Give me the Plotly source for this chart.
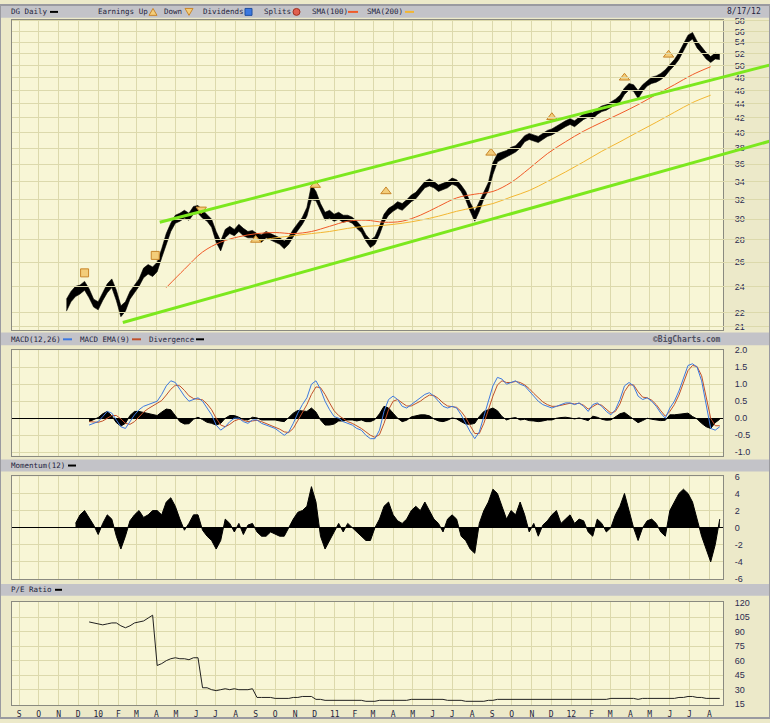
import math
import pandas as pd
import plotly.graph_objects as go

# ---------------- data ----------------
WEEK_START = "2009-11-13"   # weekly samples (Fridays) of DG daily price range
PRICE_HIGH = [23.0,23.6,24.0,24.1,24.4,23.8,23.0,22.8,23.5,24.2,
              24.6,23.7,22.5,22.8,23.6,24.1,24.6,25.5,25.8,25.6,
              26.0,27.2,28.6,29.6,30.4,30.6,30.9,30.6,31.3,31.4,
              30.9,30.5,30.0,28.8,27.9,29.0,29.3,29.0,29.5,29.1,
              28.8,28.9,28.6,28.5,28.8,28.6,28.4,28.2,27.9,28.3,
              29.0,29.6,30.2,31.2,33.6,32.9,31.6,30.7,30.9,30.5,
              30.7,30.4,30.4,30.2,29.8,29.3,28.5,28.0,28.3,29.3,
              30.5,31.1,31.4,31.8,31.6,32.0,32.5,32.8,33.4,34.0,
              34.3,34.0,33.6,33.8,34.0,34.4,34.2,33.6,32.9,31.7,
              30.8,31.8,32.9,33.9,36.2,37.3,37.5,37.7,38.1,38.3,
              38.9,39.6,39.9,39.7,39.5,39.9,40.3,40.5,40.9,41.2,
              41.6,41.9,41.6,42.1,42.6,42.9,42.7,43.3,43.7,43.9,
              44.3,44.7,45.3,46.4,47.1,46.9,46.0,46.9,47.5,48.1,
              48.3,48.7,49.3,50.2,51.0,52.2,53.8,55.3,55.8,54.2,
              53.2,52.2,51.5,52.1,51.9]
PRICE_LOW = [22.1,22.8,23.2,23.4,23.7,23.1,22.4,22.2,22.9,23.5,
             23.9,22.9,21.7,22.1,23.0,23.5,24.0,24.7,25.0,24.8,
             25.2,26.4,27.6,28.8,29.6,29.8,30.1,29.9,30.5,30.6,
             30.1,29.8,29.2,27.8,27.0,28.2,28.6,28.4,28.8,28.4,
             28.2,28.2,28.0,27.8,28.2,28.0,27.8,27.6,27.2,27.6,
             28.3,28.9,29.5,30.3,32.0,31.9,30.8,29.9,30.1,29.8,
             30.0,29.7,29.8,29.6,29.1,28.7,27.9,27.3,27.6,28.5,
             29.7,30.4,30.8,31.1,30.9,31.3,31.8,32.1,32.7,33.3,
             33.5,33.3,32.9,33.1,33.3,33.7,33.5,32.9,32.0,30.8,
             29.8,30.8,32.1,33.0,34.8,36.3,36.6,36.9,37.2,37.5,
             38.0,38.8,39.1,38.9,38.7,39.1,39.5,39.7,40.1,40.4,
             40.8,41.1,40.8,41.3,41.8,42.1,41.9,42.5,42.9,43.1,
             43.5,43.9,44.3,45.4,46.1,45.9,44.8,45.9,46.7,47.1,
             47.3,47.7,48.3,49.2,50.0,51.0,52.4,54.0,54.6,53.0,
             52.1,51.1,50.5,51.1,51.0]

SMA100_START = "2010-04-16"   # every 4 weeks
SMA100 = [23.9,25.4,26.9,27.8,28.3,28.6,28.7,28.6,28.8,29.3,29.8,29.9,29.7,29.8,
          30.4,31.3,32.2,32.6,32.9,33.9,35.5,37.3,38.8,40.2,41.4,42.6,43.9,45.4,
          46.9,48.5,49.8]
SMA200_START = "2010-09-03"
SMA200 = [27.9,28.2,28.4,28.6,28.8,29.1,29.3,29.4,29.6,29.9,30.3,30.8,31.2,31.6,
          32.3,33.0,34.0,35.1,36.3,37.6,38.8,40.1,41.4,42.8,44.2,45.3]

EARN_DATES = ["2009-12-11","2010-03-30","2010-06-09","2010-09-01","2010-12-02",
              "2011-03-21","2011-08-30","2011-12-02","2012-03-23","2012-05-30"]
EARN_LEVEL = [25.1,26.6,31.0,28.0,33.6,32.9,37.4,42.1,48.0,51.8]
EARN_KIND = ["flat","flat","down","up","up","up","up","up","up","up"]

# trend channel (two anchor points each)
CHANNEL_UP_X = ["2010-04-06","2012-11-03"]
CHANNEL_UP_Y = [29.7, 50.1]
CHANNEL_LO_X = ["2010-02-08","2012-11-03"]
CHANNEL_LO_Y = [21.28, 38.9]

MACD_START = "2009-12-18"
MACD = [-0.2,-0.15,-0.1,0.05,0.2,0.15,-0.05,-0.25,-0.3,-0.1,
        0.1,0.25,0.35,0.4,0.45,0.5,0.7,0.95,1.1,1.05,
        0.85,0.65,0.5,0.55,0.6,0.5,0.3,0.1,-0.2,-0.35,
        -0.25,-0.1,0.0,0.0,-0.1,-0.15,-0.05,-0.05,-0.15,-0.2,
        -0.25,-0.3,-0.4,-0.5,-0.4,-0.15,0.15,0.4,0.6,1.0,
        1.1,0.85,0.5,0.25,0.05,0.0,-0.1,-0.15,-0.2,-0.3,
        -0.35,-0.5,-0.6,-0.6,-0.35,0.2,0.55,0.65,0.55,0.35,
        0.3,0.4,0.5,0.6,0.7,0.75,0.65,0.5,0.35,0.3,
        0.35,0.3,0.1,-0.15,-0.4,-0.6,-0.4,0.05,0.5,0.95,
        1.2,1.15,1.0,1.05,1.1,1.0,0.95,0.8,0.65,0.5,
        0.4,0.35,0.3,0.35,0.4,0.45,0.45,0.4,0.45,0.35,
        0.2,0.4,0.45,0.35,0.2,0.1,0.25,0.55,0.95,1.05,
        0.95,0.65,0.55,0.6,0.5,0.35,0.15,0.0,0.3,0.5,
        0.8,1.2,1.55,1.6,1.5,1.1,0.4,-0.3,-0.35,-0.25]
MACD_EMA = [-0.1,-0.12,-0.12,-0.08,0.0,0.08,0.08,-0.02,-0.15,-0.18,
            -0.1,0.05,0.18,0.28,0.36,0.42,0.52,0.68,0.85,0.97,
            0.95,0.82,0.66,0.58,0.57,0.54,0.42,0.25,0.0,-0.2,
            -0.25,-0.18,-0.08,-0.03,-0.06,-0.1,-0.08,-0.06,-0.1,-0.15,
            -0.2,-0.25,-0.32,-0.4,-0.42,-0.3,-0.08,0.18,0.4,0.7,
            0.92,0.9,0.7,0.45,0.22,0.08,-0.02,-0.1,-0.15,-0.22,
            -0.3,-0.4,-0.5,-0.56,-0.48,-0.15,0.25,0.5,0.55,0.45,
            0.36,0.36,0.42,0.5,0.6,0.68,0.67,0.58,0.45,0.36,
            0.34,0.32,0.2,0.02,-0.22,-0.45,-0.45,-0.15,0.25,0.65,
            0.98,1.1,1.05,1.05,1.08,1.05,0.98,0.87,0.73,0.6,
            0.48,0.4,0.35,0.35,0.38,0.42,0.44,0.42,0.44,0.38,
            0.27,0.34,0.42,0.38,0.26,0.15,0.2,0.42,0.78,0.98,
            0.98,0.78,0.62,0.6,0.53,0.4,0.22,0.06,0.2,0.4,
            0.68,1.05,1.4,1.55,1.52,1.25,0.65,0.0,-0.22,-0.22]

MOM_START = "2009-11-27"
MOMENTUM = [0.5,1.5,2.0,1.2,0.3,-0.8,0.5,1.5,1.0,-1.0,
            -2.5,-1.0,0.8,1.5,2.0,1.2,1.5,2.0,2.0,1.5,
            3.0,3.5,2.5,1.0,-0.3,0.5,1.5,1.5,-0.3,-1.0,
            -1.5,-2.5,-1.5,1.0,0.5,-0.5,0.5,-0.8,0.3,0.5,
            -0.5,-1.0,-1.0,-0.5,-0.8,-1.0,-1.0,0.0,1.0,1.8,
            2.0,2.5,4.8,3.0,-1.0,-2.5,-1.5,-0.5,0.5,-0.5,
            0.5,0.0,-0.5,-1.0,-1.5,-1.5,0.0,1.0,2.5,3.0,
            1.5,0.8,0.5,1.0,2.0,2.5,2.0,3.0,2.0,1.0,
            0.5,-0.5,1.0,1.5,1.0,-1.0,-1.5,-2.5,-3.0,0.5,
            2.0,3.0,4.5,4.0,2.5,1.0,2.0,1.5,3.0,1.5,
            -0.5,0.5,-1.0,0.3,0.8,1.5,2.0,0.5,1.0,1.5,
            0.5,1.0,0.8,-0.5,-1.0,1.0,0.5,-0.5,0.0,1.5,
            2.5,4.0,2.0,0.0,-1.5,0.0,0.8,1.0,0.5,-0.5,
            -1.0,2.0,3.0,4.0,4.5,4.0,3.0,1.0,-1.0,-2.5,
            -4.0,-2.0,1.0]

PE_START = "2009-12-18"
PE_RATIO = [100,99,98,97,98,99,99,96,94,96,99,100,101,104,107,
            55,57,60,62,63,62,62,61,63,63,
            32,32,30,29,30,31,30,31,30,30,30,31,
            22,22,22,22,21,21,21,21,22,22,23,23,23,
            20,20,19,19,19,19,19,19,19,19,19,18,18,18,19,19,19,19,
            19,19,19,20,20,20,20,20,20,20,20,19,19,19,19,18,18,18,
            18,18,19,19,20,20,20,20,20,20,20,20,20,20,20,20,20,
            20,20,20,20,20,20,20,20,20,20,20,20,21,21,21,21,21,21,20,21,21,21,21,
            21,21,21,21,22,22,23,23,22,22,21,21,21,21]

MONTH_LABELS = ["S","O","N","D","10","F","M","A","M","J","J","A",
                "S","O","N","D","11","F","M","A","M","J","J","A",
                "S","O","N","D","12","F","M","A","M","J","J","A"]
PRICE_TICKS = [21,22,24,26,28,30,32,34,36,38,40,42,44,46,48,50,52,54,56,58]
MACD_TICKS = [-1.0,-0.5,0.0,0.5,1.0,1.5,2.0]
MOM_TICKS = [-6,-4,-2,0,2,4,6]
PE_TICKS = [15,30,45,60,75,90,105,120]

# ---------------- layout helpers ----------------
W, H = 770, 723
def px(x): return x / W
def py(y): return 1 - y / H

PAPER = "#ECE9C9"
PLOTBG = "#F8F6D6"
GRID = "#DCD9AC"
FRAME = "#8A8A80"
HEADER = "#C3C3C8"
TXT = "#1E1E3C"
MONO = "DejaVu Sans Mono"

XDOM = [px(12), px(723)]
R0 = pd.Timestamp("2009-08-21")
R1 = pd.Timestamp("2012-08-22")
R1_EXT = R0 + (R1 - R0) * ((1 - XDOM[0]) / (XDOM[1] - XDOM[0]))

weeks = pd.date_range(WEEK_START, periods=len(PRICE_HIGH), freq="W-FRI")
sma100_x = pd.date_range(SMA100_START, periods=len(SMA100), freq="4W-FRI")
sma200_x = pd.date_range(SMA200_START, periods=len(SMA200), freq="4W-FRI")
macd_x = pd.date_range(MACD_START, periods=len(MACD), freq="W-FRI")
mom_x = pd.date_range(MOM_START, periods=len(MOMENTUM), freq="W-FRI")
pe_x = pd.date_range(PE_START, periods=len(PE_RATIO), freq="W-FRI")
month_ticks = pd.date_range("2009-09-01", periods=len(MONTH_LABELS), freq="MS")
divergence = [m - s for m, s in zip(MACD, MACD_EMA)]

fig = go.Figure()

fig.add_trace(go.Scatter(x=weeks, y=PRICE_LOW, mode="lines", line=dict(color="black", width=0.6),
                         xaxis="x", yaxis="y", hoverinfo="skip"))
fig.add_trace(go.Scatter(x=weeks, y=PRICE_HIGH, mode="lines", line=dict(color="black", width=0.6),
                         fill="tonexty", fillcolor="black", xaxis="x", yaxis="y"))
fig.add_trace(go.Scatter(x=sma200_x, y=SMA200, mode="lines", line=dict(color="#F2B632", width=1, shape="spline"),
                         xaxis="x", yaxis="y"))
fig.add_trace(go.Scatter(x=sma100_x, y=SMA100, mode="lines", line=dict(color="#F05A28", width=1, shape="spline"),
                         xaxis="x", yaxis="y"))
for kind, sym, size in (("flat", "square", 8), ("up", "triangle-up", 9), ("down", "triangle-down", 9)):
    xs = [d for d, k in zip(EARN_DATES, EARN_KIND) if k == kind]
    ys = [v for v, k in zip(EARN_LEVEL, EARN_KIND) if k == kind]
    fig.add_trace(go.Scatter(x=xs, y=ys, mode="markers", xaxis="x", yaxis="y",
                             marker=dict(symbol=sym, size=size, color="#F3CD7A",
                                         line=dict(color="#C8862A", width=1))))
fig.add_trace(go.Scatter(x=CHANNEL_UP_X, y=CHANNEL_UP_Y, mode="lines",
                         line=dict(color="#7CE81E", width=3), xaxis="x5", yaxis="y"))
fig.add_trace(go.Scatter(x=CHANNEL_LO_X, y=CHANNEL_LO_Y, mode="lines",
                         line=dict(color="#7CE81E", width=3), xaxis="x5", yaxis="y"))

fig.add_trace(go.Scatter(x=macd_x, y=divergence, mode="lines", line=dict(color="black", width=1),
                         fill="tozeroy", fillcolor="black", xaxis="x2", yaxis="y2"))
fig.add_trace(go.Scatter(x=macd_x, y=MACD_EMA, mode="lines", line=dict(color="#C0502A", width=1),
                         xaxis="x2", yaxis="y2"))
fig.add_trace(go.Scatter(x=macd_x, y=MACD, mode="lines", line=dict(color="#3C78E0", width=1),
                         xaxis="x2", yaxis="y2"))
fig.add_trace(go.Scatter(x=mom_x, y=MOMENTUM, mode="lines", line=dict(color="black", width=1),
                         fill="tozeroy", fillcolor="black", xaxis="x3", yaxis="y3"))
fig.add_trace(go.Scatter(x=pe_x, y=PE_RATIO, mode="lines", line=dict(color="#202020", width=1),
                         xaxis="x4", yaxis="y4"))

panels = {"": (15, 330), "2": (350, 457), "3": (478, 582), "4": (605, 710)}

def xax(anchor, show_labels):
    return dict(domain=XDOM, anchor=anchor, range=[R0, R1], type="date",
                tickvals=month_ticks, ticktext=MONTH_LABELS, showticklabels=show_labels,
                ticks="", showgrid=True, gridcolor=GRID, gridwidth=1, zeroline=False,
                showline=True, mirror=True, linecolor=FRAME, linewidth=1,
                tickfont=dict(family=MONO, size=8, color=TXT), ticklabelstandoff=1)

def yax(anchor, top, bottom, **kw):
    d = dict(domain=[py(bottom), py(top)], anchor=anchor, side="right",
             showgrid=True, gridcolor=GRID, gridwidth=1, ticks="",
             showline=True, mirror=True, linecolor=FRAME, linewidth=1,
             tickfont=dict(family="Liberation Sans", size=9, color="#2C2C50"),
             ticklabelstandoff=9)
    d.update(kw)
    return d

fig.update_layout(
    width=W, height=H, autosize=False, margin=dict(l=0, r=0, t=0, b=0),
    paper_bgcolor=PAPER, plot_bgcolor="rgba(0,0,0,0)", showlegend=False,
    xaxis=xax("y", False), xaxis2=xax("y2", False), xaxis3=xax("y3", False), xaxis4=xax("y4", True),
    xaxis5=dict(domain=[XDOM[0], 1.0], anchor="y", range=[R0, R1_EXT], type="date", visible=False),
    yaxis=yax("x", 15, 330, type="log", range=[math.log10(20.73), math.log10(58.2)],
              tickvals=PRICE_TICKS, ticktext=[str(t) for t in PRICE_TICKS]),
    yaxis2=yax("x2", 350, 457, range=[-1.1, 2.0], tickvals=MACD_TICKS,
               ticktext=["%.1f" % t for t in MACD_TICKS], zeroline=True, zerolinecolor="black", zerolinewidth=1),
    yaxis3=yax("x3", 478, 582, range=[-6, 6], tickvals=MOM_TICKS,
               ticktext=[str(t) for t in MOM_TICKS], zeroline=True, zerolinecolor="black", zerolinewidth=1),
    yaxis4=yax("x4", 605, 710, range=[14, 121], tickvals=PE_TICKS,
               ticktext=[str(t) for t in PE_TICKS], zeroline=False),
)

shapes = []
for top, bottom in panels.values():
    shapes.append(dict(type="rect", xref="paper", yref="paper", x0=XDOM[0], x1=XDOM[1],
                       y0=py(bottom), y1=py(top), fillcolor=PLOTBG, line_width=0, layer="below"))
for top, bottom in [(0, 13), (332, 345), (461, 473), (587, 599)]:
    shapes.append(dict(type="rect", xref="paper", yref="paper", x0=0, x1=1,
                       y0=py(bottom), y1=py(top), fillcolor=HEADER, line_width=0, layer="below"))
shapes.append(dict(type="rect", xref="paper", yref="paper", x0=0, x1=1, y0=0, y1=1,
                   line=dict(color="#9A9AA0", width=2), fillcolor="rgba(0,0,0,0)"))

def dash(x0, x1, ymid, color, h=2):
    shapes.append(dict(type="rect", xref="paper", yref="paper", x0=px(x0), x1=px(x1),
                       y0=py(ymid + h / 2), y1=py(ymid - h / 2), fillcolor=color, line_width=0))

def tri(xc, ymid, up=True):
    s = 1 if up else -1
    p = (f"M {px(xc-4)} {py(ymid+3.5*s)} L {px(xc+4)} {py(ymid+3.5*s)} "
         f"L {px(xc)} {py(ymid-3.5*s)} Z")
    shapes.append(dict(type="path", xref="paper", yref="paper", path=p,
                       fillcolor="#F3CD7A", line=dict(color="#C8862A", width=1)))

dash(50, 58, 7, "black")
tri(153, 7, True)
tri(189, 7, False)
shapes.append(dict(type="rect", xref="paper", yref="paper", x0=px(245), x1=px(252), y0=py(10.5), y1=py(3.5),
                   fillcolor="#3C78E0", line=dict(color="#1F4FA0", width=1)))
shapes.append(dict(type="circle", xref="paper", yref="paper", x0=px(293), x1=px(300), y0=py(10.5), y1=py(3.5),
                   fillcolor="#E06050", line=dict(color="#A03020", width=1)))
dash(348, 358, 7, "#F05A28")
dash(405, 414, 7, "#F2B632")
dash(63, 72, 339, "#3C78E0")
dash(132, 141, 339, "#C0502A")
dash(196, 204, 339, "black")
dash(68, 76, 467, "black")
dash(55, 62, 593, "black")
fig.update_layout(shapes=shapes)

annots = []
def label(x, y, text, anchor="left", size=7.5, color=TXT, bold=False):
    annots.append(dict(x=px(x), y=py(y), xref="paper", yref="paper",
                       text=("<b>%s</b>" % text) if bold else text,
                       showarrow=False, xanchor=anchor, yanchor="middle",
                       font=dict(family=MONO, size=size, color=color)))

label(9, 7, "DG Daily")
label(96, 7, "Earnings Up")
label(162, 7, "Down")
label(201, 7, "Dividends")
label(262, 7, "Splits")
label(310, 7, "SMA(100)")
label(365, 7, "SMA(200)")
label(763, 7, "8/17/12", anchor="right", size=8)
label(9, 339, "MACD(12,26)")
label(78, 339, "MACD EMA(9)")
label(147, 339, "Divergence")
label(723, 339, "©BigCharts.com", anchor="right", size=8, color="#505060", bold=True)
label(9, 467, "Momentum(12)")
label(9, 593, "P/E Ratio")
fig.update_layout(annotations=annots)

fig.write_html("out.html", config={"displayModeBar": False},
               post_script="document.body.style.margin='0';document.body.style.padding='0';"
                           "document.body.style.overflow='hidden';"
                           "document.documentElement.style.overflow='hidden';")
